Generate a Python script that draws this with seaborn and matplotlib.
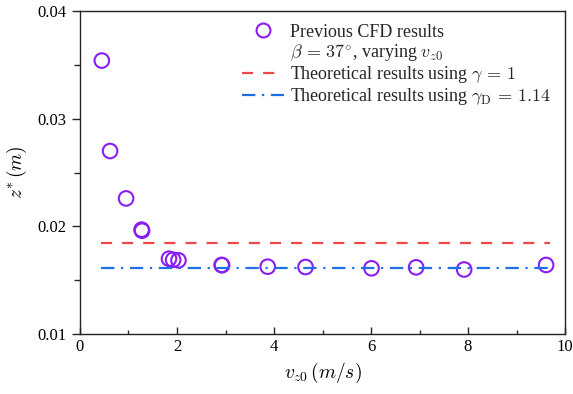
import numpy as np
import pandas as pd
import seaborn as sns
from matplotlib import pyplot as plt
from matplotlib.lines import Line2D
from matplotlib.ticker import MultipleLocator

## CFD points
vz0 = [0.45, 0.62, 0.95, 1.27, 1.28, 1.835, 1.92, 2.03, 2.92, 2.93, 3.87, 4.65, 6.01, 6.93, 7.92, 9.61]
zstar = [0.0354, 0.0270, 0.0226, 0.0197, 0.0196, 0.0170, 0.0169, 0.01685, 0.01642, 0.0164,
         0.01626, 0.01623, 0.01611, 0.0162, 0.0160, 0.01642]

## theoretical lines
line_x = [0.44, 9.68]
z_gamma1 = [0.0185, 0.0185]
z_gammaD = [0.01617, 0.01617]

sns.set_theme(style='ticks')
plt.rcParams['font.family'] = ['Liberation Serif', 'DejaVu Serif']
plt.rcParams['mathtext.fontset'] = 'cm'

df = pd.DataFrame({'vz0': vz0, 'zstar': zstar})
lines = pd.DataFrame({'x': line_x + line_x,
                      'z': z_gamma1 + z_gammaD,
                      'case': ['g1'] * 2 + ['gD'] * 2})

fig = plt.figure(figsize=(5.73, 3.94), dpi=100)
ax = fig.add_axes([0.1396, 0.152, 0.8465, 0.82])

sns.lineplot(data=lines[lines.case == 'g1'], x='x', y='z', ax=ax, color='#f04848',
             lw=1.6, linestyle=(0, (5, 4.5)))
sns.lineplot(data=lines[lines.case == 'gD'], x='x', y='z', ax=ax, color='#1f6fe8',
             lw=1.6, linestyle=(0, (6, 3, 1, 3)))
sns.scatterplot(data=df, x='vz0', y='zstar', ax=ax, marker='o', s=110,
                facecolors='none', edgecolor='#8a1cf4', linewidth=1.5)

ax.set_xlim(0, 10)
ax.set_ylim(0.01, 0.04)
ax.xaxis.set_major_locator(MultipleLocator(2))
ax.xaxis.set_minor_locator(MultipleLocator(1))
ax.yaxis.set_major_locator(MultipleLocator(0.01))
ax.yaxis.set_minor_locator(MultipleLocator(0.005))
ax.tick_params(axis='x', which='major', direction='in', length=5, width=1, labelsize=12, labelcolor='black')
ax.tick_params(axis='x', which='minor', direction='in', length=3, width=1)
ax.tick_params(axis='y', which='major', direction='out', length=6, width=1, labelsize=12, labelcolor='black')
ax.tick_params(axis='y', which='minor', direction='out', length=4, width=1)
for s in ax.spines.values():
    s.set_linewidth(1.0)
    s.set_color('#222222')

ax.set_xlabel(r'$v_{z0}\,(m/s)$', fontsize=14, color='black')
ax.set_ylabel(r'$z^{*}\,(m)$', fontsize=14, color='black', labelpad=6)

handles = [Line2D([], [], marker='o', ls='none', mfc='none', mec='#8a1cf4', mew=1.5, ms=10),
           Line2D([], [], ls='none'),
           Line2D([], [], color='#f04848', lw=1.6, ls=(0, (5, 4.5))),
           Line2D([], [], color='#1f6fe8', lw=1.6, ls=(0, (6, 3, 1, 3)))]
labels = ['Previous CFD results',
          r'$\beta\,=\,37^{\circ}$, varying $v_{z0}$',
          r'Theoretical results using $\gamma\,=\,1$',
          r'Theoretical results using $\gamma_{\mathrm{D}}\,=\,1.14$']
ax.legend(handles, labels, loc='upper right', frameon=False, fontsize=13,
          handlelength=2.3, labelspacing=0.06, borderaxespad=0.3, handletextpad=0.35,
          bbox_to_anchor=(0.997, 1.0))

fig.savefig('out.png', dpi=100)
